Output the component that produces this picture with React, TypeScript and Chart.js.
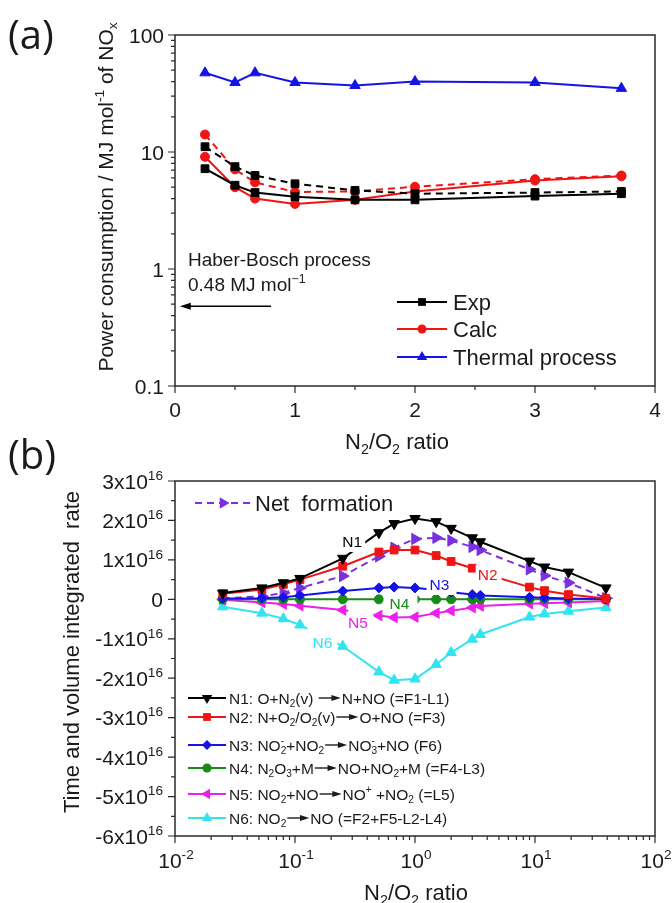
import React, { useEffect, useRef } from 'react';
import { Chart, registerables } from 'chart.js';

Chart.register(...registerables);

const SANS = '"Liberation Sans", Arial, Helvetica, sans-serif';
const PANEL_FONT = '"Open Sans", "Noto Sans", sans-serif';

// ---------- Panel (a) data ----------
const A_RATIO = [0.25, 0.5, 0.667, 1, 1.5, 2, 3, 3.72];
const A_EXP = [7.2, 5.2, 4.5, 4.15, 3.9, 3.9, 4.2, 4.4];
const A_EXP_DASHED = [11.1, 7.5, 6.3, 5.35, 4.7, 4.4, 4.5, 4.6];
const A_CALC = [9.1, 5.0, 4.0, 3.6, 3.9, 4.6, 5.7, 6.2];
const A_CALC_DASHED = [14.1, 7.1, 5.5, 4.55, 4.6, 5.05, 5.85, 6.3];
const A_THERMAL = [47.5, 39.3, 47.5, 39.3, 37.0, 40.0, 39.3, 35.0];
const A_X_TICKS = [0, 1, 2, 3, 4];
const A_X_MINOR = [0.5, 1.5, 2.5, 3.5];
const A_Y_TICKS = [0.1, 1, 10, 100];
const A_Y_LABELS = ['0.1', '1', '10', '100'];
const HABER_BOSCH = 0.48;

// ---------- Panel (b) data (rates in units of 1e16) ----------
const B_RATIO = [0.025, 0.053, 0.08, 0.11, 0.25, 0.5, 0.67, 1, 1.5, 2, 3, 3.5, 9, 12, 19, 39];
const B_N1 = [0.16, 0.29, 0.42, 0.53, 1.04, 1.69, 1.92, 2.05, 1.97, 1.8, 1.56, 1.46, 0.97, 0.82, 0.69, 0.29];
const B_N2 = [0.14, 0.25, 0.38, 0.5, 0.84, 1.2, 1.25, 1.25, 1.11, 0.96, 0.79, 0.68, 0.31, 0.22, 0.12, 0.02];
const B_N3 = [0.02, 0.03, 0.05, 0.1, 0.21, 0.29, 0.31, 0.29, 0.24, 0.18, 0.12, 0.1, 0.05, 0.04, 0.02, 0.01];
const B_N4 = [0, 0, 0, 0, 0, 0, 0, 0, 0, 0, 0, 0, 0, 0, 0, 0];
const B_N5 = [-0.01, -0.08, -0.12, -0.16, -0.27, -0.41, -0.46, -0.45, -0.35, -0.29, -0.21, -0.17, -0.11, -0.1, -0.08, -0.04];
const B_N6 = [-0.19, -0.35, -0.49, -0.65, -1.19, -1.84, -2.05, -2.02, -1.65, -1.35, -1.01, -0.89, -0.45, -0.37, -0.3, -0.21];
const B_NET = [0.02, 0.08, 0.16, 0.29, 0.59, 1.09, 1.31, 1.53, 1.56, 1.49, 1.33, 1.25, 0.76, 0.6, 0.42, 0.03];
const B_UNIT = 1e16;
const B_Y_TICKS = [3, 2, 1, 0, -1, -2, -3, -4, -5, -6];
const B_Y_MINOR = [2.5, 1.5, 0.5, -0.5, -1.5, -2.5, -3.5, -4.5, -5.5];
const B_X_EXP = [-2, -1, 0, 1, 2];
const B_LABELS = ['N1', 'N2', 'N3', 'N4', 'N5', 'N6'];
const B_LABEL_X = [0.30, 4.03, 1.6, 0.743, 0.334, 0.169];
const B_LABEL_Y = [1.48, 0.62, 0.39, -0.094, -0.59, -1.095];

// ---------- colours ----------
const BLACK = '#000000';
const RED = '#f01414';
const BLUE = '#1414e6';
const GREEN = '#178a17';
const MAGENTA = '#ec1fec';
const CYAN = '#30e4f0';
const VIOLET = '#7a30e0';
const TEXT = '#1a1a1a';
const AXIS = '#2a2a2a';

type Seg = string | { sub?: string; sup?: string; arrow?: boolean };

function richWidth(ctx: CanvasRenderingContext2D, segs: Seg[], size: number) {
  let w = 0;
  for (const s of segs) {
    if (typeof s === 'string') {
      ctx.font = `${size}px ${SANS}`;
      w += ctx.measureText(s).width;
    } else if (s.arrow) {
      w += size * 1.55;
    } else {
      ctx.font = `${size * 0.65}px ${SANS}`;
      w += Math.max(s.sub ? ctx.measureText(s.sub).width : 0, s.sup ? ctx.measureText(s.sup).width : 0);
    }
  }
  return w;
}

function drawRich(
  ctx: CanvasRenderingContext2D,
  segs: Seg[],
  x: number,
  yMid: number,
  size: number,
  color: string,
  align: 'left' | 'center' | 'right' = 'left'
) {
  const w = richWidth(ctx, segs, size);
  let cx = align === 'left' ? x : align === 'center' ? x - w / 2 : x - w;
  const base = yMid + size * 0.36;
  ctx.save();
  ctx.fillStyle = color;
  ctx.strokeStyle = color;
  ctx.textAlign = 'left';
  ctx.textBaseline = 'alphabetic';
  for (const s of segs) {
    if (typeof s === 'string') {
      ctx.font = `${size}px ${SANS}`;
      ctx.fillText(s, cx, base);
      cx += ctx.measureText(s).width;
    } else if (s.arrow) {
      const L = size * 1.55;
      const tip = cx + L - 1;
      const headL = size * 0.6;
      ctx.lineWidth = Math.max(1, size * 0.09);
      ctx.beginPath();
      ctx.moveTo(cx + 1, yMid);
      ctx.lineTo(tip - headL + 1, yMid);
      ctx.stroke();
      ctx.beginPath();
      ctx.moveTo(tip, yMid);
      ctx.lineTo(tip - headL, yMid - size * 0.2);
      ctx.lineTo(tip - headL, yMid + size * 0.2);
      ctx.closePath();
      ctx.fill();
      cx += L;
    } else {
      const small = size * 0.65;
      ctx.font = `${small}px ${SANS}`;
      let adv = 0;
      if (s.sup) {
        ctx.fillText(s.sup, cx, base - size * 0.42);
        adv = Math.max(adv, ctx.measureText(s.sup).width);
      }
      if (s.sub) {
        ctx.fillText(s.sub, cx, base + size * 0.22);
        adv = Math.max(adv, ctx.measureText(s.sub).width);
      }
      cx += adv;
    }
  }
  ctx.restore();
}

function drawRotated(ctx: CanvasRenderingContext2D, segs: Seg[], cx: number, cy: number, size: number, color: string) {
  ctx.save();
  ctx.translate(cx, cy);
  ctx.rotate(-Math.PI / 2);
  drawRich(ctx, segs, 0, 0, size, color, 'center');
  ctx.restore();
}

function drawMarker(ctx: CanvasRenderingContext2D, style: string, x: number, y: number, r: number, color: string, rotDeg = 0) {
  ctx.save();
  ctx.fillStyle = color;
  ctx.beginPath();
  if (style === 'circle') {
    ctx.arc(x, y, r, 0, Math.PI * 2);
  } else if (style === 'rect') {
    const h = r * Math.SQRT1_2;
    ctx.rect(x - h, y - h, 2 * h, 2 * h);
  } else if (style === 'rectRot') {
    ctx.moveTo(x - r, y);
    ctx.lineTo(x, y - r);
    ctx.lineTo(x + r, y);
    ctx.lineTo(x, y + r);
    ctx.closePath();
  } else {
    let rad = (rotDeg * Math.PI) / 180;
    ctx.moveTo(x + Math.sin(rad) * r, y - Math.cos(rad) * r);
    rad += (2 * Math.PI) / 3;
    ctx.lineTo(x + Math.sin(rad) * r, y - Math.cos(rad) * r);
    rad += (2 * Math.PI) / 3;
    ctx.lineTo(x + Math.sin(rad) * r, y - Math.cos(rad) * r);
    ctx.closePath();
  }
  ctx.fill();
  ctx.restore();
}

function legendLine(ctx: CanvasRenderingContext2D, x0: number, x1: number, y: number, color: string, dash: number[] = []) {
  ctx.save();
  ctx.strokeStyle = color;
  ctx.lineWidth = 2;
  ctx.setLineDash(dash);
  ctx.beginPath();
  ctx.moveTo(x0, y);
  ctx.lineTo(x1, y);
  ctx.stroke();
  ctx.restore();
}

const pts = (xs: number[], ys: number[], k = 1) => xs.map((x, i) => ({ x, y: ys[i] * k }));

function lineDs(label: string, data: any[], color: string, style: string, r: number, rot = 0, dash: number[] = []) {
  return {
    label,
    data,
    borderColor: color,
    backgroundColor: color,
    borderWidth: 2,
    borderDash: dash,
    pointStyle: style,
    pointRadius: r,
    pointRotation: rot,
    pointBorderColor: color,
    pointBackgroundColor: color,
    pointBorderWidth: 1,
    tension: 0,
    fill: false,
  };
}

// ---------- Panel (a) drawing plugin ----------
const panelAPlugin = {
  id: 'panelA',
  afterDraw(chart: any) {
    const { ctx, chartArea: ca } = chart;
    const xs = chart.scales.x;
    const ys = chart.scales.y;
    ctx.save();
    ctx.strokeStyle = AXIS;
    ctx.lineWidth = 1.5;
    ctx.strokeRect(ca.left, ca.top, ca.right - ca.left, ca.bottom - ca.top);
    ctx.lineWidth = 1.2;
    ctx.beginPath();
    A_X_TICKS.forEach((v) => {
      const p = xs.getPixelForValue(v);
      ctx.moveTo(p, ca.bottom);
      ctx.lineTo(p, ca.bottom + 7);
    });
    A_X_MINOR.forEach((v) => {
      const p = xs.getPixelForValue(v);
      ctx.moveTo(p, ca.bottom);
      ctx.lineTo(p, ca.bottom + 4);
    });
    for (let d = -1; d < 2; d++) {
      for (let m = 2; m <= 9; m++) {
        const p = ys.getPixelForValue(m * Math.pow(10, d));
        ctx.moveTo(ca.left, p);
        ctx.lineTo(ca.left - 4, p);
      }
    }
    A_Y_TICKS.forEach((v) => {
      const p = ys.getPixelForValue(v);
      ctx.moveTo(ca.left, p);
      ctx.lineTo(ca.left - 7, p);
    });
    ctx.stroke();

    A_X_TICKS.forEach((v) => drawRich(ctx, [String(v)], xs.getPixelForValue(v), ca.bottom + 23, 21, TEXT, 'center'));
    A_Y_TICKS.forEach((v, i) => drawRich(ctx, [A_Y_LABELS[i]], ca.left - 11, ys.getPixelForValue(v), 21, TEXT, 'right'));

    drawRich(ctx, ['N', { sub: '2' }, '/O', { sub: '2' }, ' ratio'], 397, 441, 22, TEXT, 'center');
    drawRotated(ctx, ['Power consumption / MJ mol', { sup: '-1' }, ' of NO', { sub: 'x' }], 105, 197, 21, TEXT);

    ctx.fillStyle = TEXT;
    ctx.font = `40px ${PANEL_FONT}`;
    ctx.textBaseline = 'alphabetic';
    ctx.textAlign = 'left';
    ctx.fillText('(a)', 8, 49);

    // Haber-Bosch reference arrow
    const ay = ys.getPixelForValue(HABER_BOSCH);
    const ax0 = xs.getPixelForValue(0.8);
    const ax1 = xs.getPixelForValue(0.04);
    ctx.strokeStyle = BLACK;
    ctx.fillStyle = BLACK;
    ctx.lineWidth = 1.5;
    ctx.beginPath();
    ctx.moveTo(ax0, ay);
    ctx.lineTo(ax1 + 8, ay);
    ctx.stroke();
    ctx.beginPath();
    ctx.moveTo(ax1, ay);
    ctx.lineTo(ax1 + 11, ay - 3.5);
    ctx.lineTo(ax1 + 11, ay + 3.5);
    ctx.closePath();
    ctx.fill();
    drawRich(ctx, ['Haber-Bosch process'], 188, ay - 47, 19, TEXT, 'left');
    drawRich(ctx, [`${HABER_BOSCH} MJ mol`, { sup: '\u22121' }], 188, ay - 22, 19, TEXT, 'left');

    // legend
    const rows = [
      { t: 'Exp', c: BLACK, s: 'rect', r: 5.5, y: 302 },
      { t: 'Calc', c: RED, s: 'circle', r: 4.5, y: 329 },
      { t: 'Thermal process', c: BLUE, s: 'triangle', r: 6, y: 357 },
    ];
    rows.forEach((row) => {
      legendLine(ctx, 397, 447, row.y, row.c);
      drawMarker(ctx, row.s, 422, row.y, row.r, row.c);
      drawRich(ctx, [row.t], 453, row.y, 22, TEXT, 'left');
    });
    ctx.restore();
  },
};

// ---------- Panel (b) drawing plugin ----------
const LABEL_COLORS = [BLACK, RED, BLUE, GREEN, MAGENTA, CYAN];
const LABEL_BOXES = [
  { dx: 0, dy: 0, w: 26, h: 22 },
  { dx: 1, dy: 0, w: 26, h: 20 },
  { dx: 2, dy: 3, w: 30, h: 16 },
  { dx: 1, dy: -1.5, w: 34, h: 17 },
  { dx: 3, dy: -4, w: 25, h: 23 },
  { dx: 0, dy: -5, w: 30, h: 26 },
];

const panelBPlugin = {
  id: 'panelB',
  afterDatasetsDraw(chart: any) {
    const { ctx } = chart;
    const xs = chart.scales.x;
    const ys = chart.scales.y;
    ctx.save();
    B_LABELS.forEach((t, i) => {
      const px = xs.getPixelForValue(B_LABEL_X[i]);
      const py = ys.getPixelForValue(B_LABEL_Y[i] * B_UNIT);
      const b = LABEL_BOXES[i];
      ctx.fillStyle = '#ffffff';
      ctx.fillRect(px + b.dx - b.w / 2, py + b.dy - b.h / 2, b.w, b.h);
      drawRich(ctx, [t], px, py, 15.5, LABEL_COLORS[i], 'center');
    });
    ctx.restore();
  },
  afterDraw(chart: any) {
    const { ctx, chartArea: ca } = chart;
    const xs = chart.scales.x;
    const ys = chart.scales.y;
    ctx.save();
    ctx.strokeStyle = AXIS;
    ctx.lineWidth = 1.5;
    ctx.strokeRect(ca.left, ca.top, ca.right - ca.left, ca.bottom - ca.top);
    ctx.lineWidth = 1.2;
    ctx.beginPath();
    B_X_EXP.forEach((e) => {
      const p = xs.getPixelForValue(Math.pow(10, e));
      ctx.moveTo(p, ca.bottom);
      ctx.lineTo(p, ca.bottom + 7);
    });
    for (let d = -2; d < 2; d++) {
      for (let m = 2; m <= 9; m++) {
        const p = xs.getPixelForValue(m * Math.pow(10, d));
        ctx.moveTo(p, ca.bottom);
        ctx.lineTo(p, ca.bottom + 4);
      }
    }
    B_Y_TICKS.forEach((v) => {
      const p = ys.getPixelForValue(v * B_UNIT);
      ctx.moveTo(ca.left, p);
      ctx.lineTo(ca.left - 7, p);
    });
    B_Y_MINOR.forEach((v) => {
      const p = ys.getPixelForValue(v * B_UNIT);
      ctx.moveTo(ca.left, p);
      ctx.lineTo(ca.left - 4, p);
    });
    ctx.stroke();

    B_X_EXP.forEach((e) =>
      drawRich(ctx, ['10', { sup: String(e) }], xs.getPixelForValue(Math.pow(10, e)) + 1, ca.bottom + 24, 21, TEXT, 'center')
    );
    B_Y_TICKS.forEach((v) => {
      const segs: Seg[] = v === 0 ? ['0'] : [`${v}x10`, { sup: '16' }];
      drawRich(ctx, segs, ca.left - 12, ys.getPixelForValue(v * B_UNIT), 21, TEXT, 'right');
    });

    drawRich(ctx, ['N', { sub: '2' }, '/O', { sub: '2' }, ' ratio'], 416, 892, 22, TEXT, 'center');
    drawRotated(ctx, ['Time and volume integrated  rate'], 71, 652, 22, TEXT);

    ctx.fillStyle = TEXT;
    ctx.font = `40px ${PANEL_FONT}`;
    ctx.textBaseline = 'alphabetic';
    ctx.textAlign = 'left';
    ctx.fillText('(b)', 8, 469);

    // Net formation legend
    legendLine(ctx, 195, 250, 503, VIOLET, [7, 5]);
    drawMarker(ctx, 'triangle', 223, 503, 6.5, VIOLET, 90);
    drawRich(ctx, ['Net  formation'], 255, 503, 22, TEXT, 'left');

    // reaction legend
    const rows: { segs: Seg[]; c: string; s: string; rot: number; r: number; y: number }[] = [
      { segs: ['N1: O+N', { sub: '2' }, '(v) ', { arrow: true }, 'N+NO (=F1-L1)'], c: BLACK, s: 'triangle', rot: 180, r: 6, y: 698 },
      { segs: ['N2: N+O', { sub: '2' }, '/O', { sub: '2' }, '(v)', { arrow: true }, 'O+NO (=F3)'], c: RED, s: 'rect', rot: 0, r: 5.5, y: 717 },
      { segs: ['N3: NO', { sub: '2', sup: '-' }, '+NO', { sub: '2' }, { arrow: true }, 'NO', { sub: '3', sup: '-' }, '+NO (F6)'], c: BLUE, s: 'rectRot', rot: 0, r: 5, y: 745 },
      { segs: ['N4: N', { sub: '2' }, 'O', { sub: '3' }, '+M', { arrow: true }, 'NO+NO', { sub: '2' }, '+M (=F4-L3)'], c: GREEN, s: 'circle', rot: 0, r: 4.5, y: 768 },
      { segs: ['N5: NO', { sub: '2' }, '+NO', { arrow: true }, 'NO', { sup: '+' }, ' +NO', { sub: '2' }, ' (=L5)'], c: MAGENTA, s: 'triangle', rot: 270, r: 6, y: 794 },
      { segs: ['N6: NO', { sub: '2' }, { arrow: true }, 'NO (=F2+F5-L2-L4)'], c: CYAN, s: 'triangle', rot: 0, r: 6, y: 818 },
    ];
    rows.forEach((row) => {
      legendLine(ctx, 188, 226, row.y, row.c);
      drawMarker(ctx, row.s, 207, row.y, row.r, row.c, row.rot);
      drawRich(ctx, row.segs, 229, row.y, 15.5, TEXT, 'left');
    });
    ctx.restore();
  },
};

const hiddenAxis = {
  ticks: { display: false },
  grid: { display: false, drawTicks: false },
  border: { display: false },
};

export default function App() {
  const refA = useRef<HTMLCanvasElement>(null);
  const refB = useRef<HTMLCanvasElement>(null);

  useEffect(() => {
    document.body.style.margin = '0';
    const chartA = new Chart(refA.current as HTMLCanvasElement, {
      type: 'line',
      data: {
        datasets: [
          lineDs('Exp', pts(A_RATIO, A_EXP), BLACK, 'rect', 5.5),
          lineDs('Exp (dashed)', pts(A_RATIO, A_EXP_DASHED), BLACK, 'rect', 5.5, 0, [7, 5]),
          lineDs('Calc', pts(A_RATIO, A_CALC), RED, 'circle', 4.5),
          lineDs('Calc (dashed)', pts(A_RATIO, A_CALC_DASHED), RED, 'circle', 4.5, 0, [7, 5]),
          lineDs('Thermal process', pts(A_RATIO, A_THERMAL), BLUE, 'triangle', 6),
        ] as any,
      },
      options: {
        animation: false,
        responsive: false,
        devicePixelRatio: 1,
        layout: { padding: { top: 35, right: 17, left: 0, bottom: 0 } },
        plugins: { legend: { display: false }, tooltip: { enabled: false } },
        scales: {
          x: { type: 'linear', min: 0, max: 4, ...hiddenAxis, afterFit: (s: any) => { s.height = 903 - 386; } },
          y: { type: 'logarithmic', min: 0.1, max: 100, ...hiddenAxis, afterFit: (s: any) => { s.width = 175; } },
        } as any,
      },
      plugins: [panelAPlugin],
    });

    const chartB = new Chart(refB.current as HTMLCanvasElement, {
      type: 'line',
      data: {
        datasets: [
          lineDs('N1', pts(B_RATIO, B_N1, B_UNIT), BLACK, 'triangle', 6, 180),
          lineDs('N2', pts(B_RATIO, B_N2, B_UNIT), RED, 'rect', 5.5),
          lineDs('N3', pts(B_RATIO, B_N3, B_UNIT), BLUE, 'rectRot', 5),
          lineDs('N4', pts(B_RATIO, B_N4, B_UNIT), GREEN, 'circle', 4.5),
          lineDs('N5', pts(B_RATIO, B_N5, B_UNIT), MAGENTA, 'triangle', 6, 270),
          lineDs('N6', pts(B_RATIO, B_N6, B_UNIT), CYAN, 'triangle', 6),
          lineDs('Net formation', pts(B_RATIO, B_NET, B_UNIT), VIOLET, 'triangle', 6.5, 90, [7, 5]),
        ] as any,
      },
      options: {
        animation: false,
        responsive: false,
        devicePixelRatio: 1,
        layout: { padding: { top: 481, right: 17, left: 0, bottom: 0 } },
        plugins: { legend: { display: false }, tooltip: { enabled: false } },
        scales: {
          x: { type: 'logarithmic', min: 0.01, max: 100, ...hiddenAxis, afterFit: (s: any) => { s.height = 903 - 836; } },
          y: { type: 'linear', min: -6 * B_UNIT, max: 3 * B_UNIT, ...hiddenAxis, afterFit: (s: any) => { s.width = 175; } },
        } as any,
      },
      plugins: [panelBPlugin],
    });

    return () => {
      chartA.destroy();
      chartB.destroy();
    };
  }, []);

  const cs: React.CSSProperties = { position: 'absolute', left: 0, top: 0, width: 672, height: 903 };
  return (
    <div style={{ position: 'relative', width: 672, height: 903, background: '#ffffff' }}>
      <canvas ref={refA} width={672} height={903} style={cs} />
      <canvas ref={refB} width={672} height={903} style={cs} />
    </div>
  );
}
